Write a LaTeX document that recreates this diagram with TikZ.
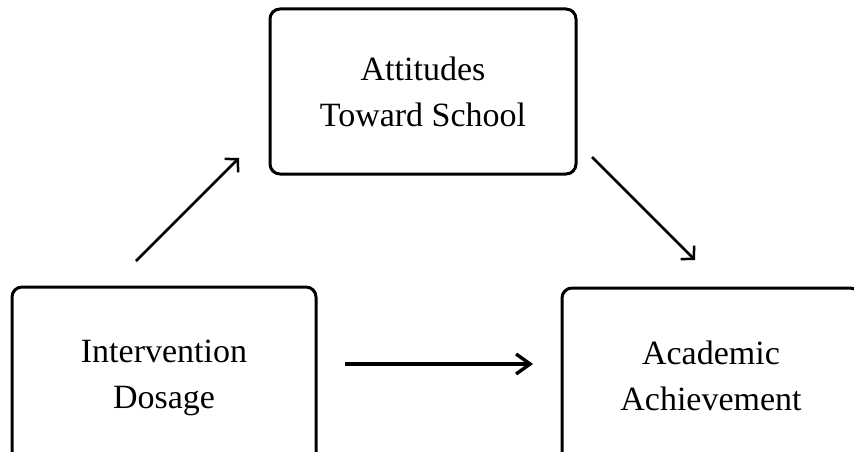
\documentclass[tikz,border=0pt]{standalone}
\usepackage{fontspec}
\setmainfont{Liberation Serif}
\usepackage{tikz}
\usetikzlibrary{arrows.meta,positioning,calc}

\begin{document}
\begin{tikzpicture}[x=1pt, y=1pt,
  var/.style={rectangle, rounded corners=10pt, draw=black, line width=3pt,
    align=center, font=\fontsize{34}{46}\selectfont, inner sep=0pt},
  arr/.style={-{Straight Barb[length=9pt, width=19pt]}, black, line width=2.5pt},
  main/.style={-{Straight Barb[length=14pt, width=20pt]}, black, line width=3.4pt}]
\clip (0,0) rectangle (854,451);
\node[var, minimum width=306pt, minimum height=165pt] (att) at (423,359.5) {Attitudes\\Toward School};
\node[var, minimum width=304pt, minimum height=181pt] (dose) at (164,73.5) {Intervention\\Dosage};
\node[var, minimum width=298pt, minimum height=175pt] (ach) at (711,75.5) {Academic\\Achievement};
% arrow end points
\coordinate (d1) at (136,190);
\coordinate (a1) at (239,293);
\coordinate (a2) at (592,294);
\coordinate (c2) at (695,191);
\coordinate (d3) at (345,87);
\coordinate (c3) at (533,87);
\draw[arr] (d1) -- (a1);
\draw[arr] (a2) -- (c2);
\draw[main] (d3) -- (c3);
\end{tikzpicture}
\end{document}
